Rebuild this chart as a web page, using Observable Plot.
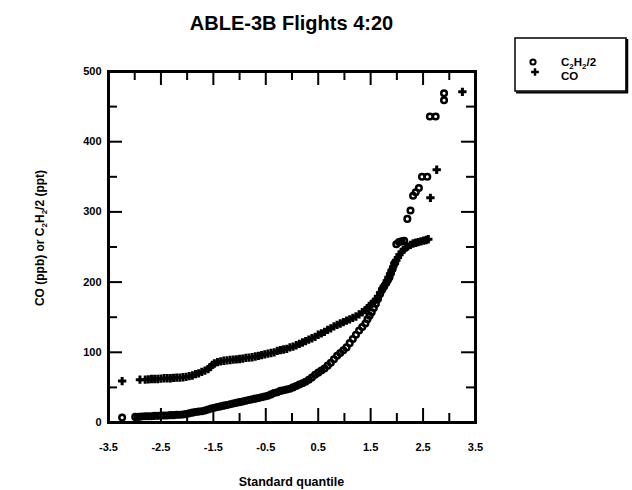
<!DOCTYPE html>
<html>
<head>
<meta charset="utf-8">
<script src="https://cdn.jsdelivr.net/npm/d3@7"></script>
<script src="https://cdn.jsdelivr.net/npm/@observablehq/plot@0.6"></script>
<style>
  html, body { margin: 0; padding: 0; background: #fff; }
  #wrap { position: relative; width: 632px; height: 490px; overflow: hidden; }
  #wrap > svg { position: absolute; left: 0; top: 0; }
  #overlay { pointer-events: none; }
  #overlay text { font-family: "Liberation Sans", Arial, Helvetica, sans-serif; font-weight: bold; fill: #000; }
</style>
</head>
<body>
<div id="wrap"></div>
<script>
// ---- data (normal quantile, value) ----
const coQuantile = [-3.24,-2.90,-2.80,-2.74,-2.68,-2.62,-2.56,-2.50,-2.44,-2.38,-2.32,-2.26,-2.20,-2.14,-2.08,-2.02,-1.96,-1.90,-1.84,-1.78,-1.72,-1.66,-1.60,-1.56,-1.52,-1.48,-1.42,-1.36,-1.30,-1.24,-1.18,-1.12,-1.06,-1.00,-0.94,-0.88,-0.82,-0.76,-0.70,-0.64,-0.58,-0.52,-0.46,-0.40,-0.34,-0.28,-0.22,-0.16,-0.10,-0.04,0.02,0.08,0.14,0.20,0.26,0.32,0.38,0.44,0.50,0.56,0.62,0.68,0.74,0.80,0.86,0.92,0.98,1.04,1.10,1.16,1.22,1.28,1.34,1.40,1.44,1.48,1.52,1.56,1.60,1.64,1.68,1.72,1.75,1.78,1.81,1.84,1.87,1.90,1.93,1.96,1.99,2.02,2.05,2.09,2.13,2.17,2.21,2.26,2.31,2.36,2.41,2.46,2.51,2.56,2.60,2.64,2.76,3.25];
const coValue = [59,61,61,61.5,62,62,62,62.5,63,63,63,63.5,64,64,64.5,65,66,67,69,70,72,74,76,79,82,84,86,87,88,88.5,89,89.5,90,90.5,91,92,92.5,93,94,95,96,97,98,99,100,102,103,104,105,107,108,110,112,114,116,118,120,122,125,127,129,132,134,137,139,141,143,145,147,149,151,154,157,160,163,166,169,172,175,180,185,190,194,197,202,207,212,217,222,227,231,235,239,243,246,249,251,253,255,256,257,258,259,260,261,320,360,471];

const c2h2Quantile = [-3.24,-2.99,-2.93,-2.87,-2.80,-2.74,-2.68,-2.62,-2.56,-2.50,-2.44,-2.38,-2.32,-2.26,-2.20,-2.14,-2.08,-2.02,-1.96,-1.90,-1.84,-1.78,-1.72,-1.66,-1.60,-1.54,-1.48,-1.42,-1.36,-1.30,-1.24,-1.18,-1.12,-1.06,-1.00,-0.94,-0.88,-0.82,-0.76,-0.70,-0.64,-0.58,-0.52,-0.46,-0.40,-0.34,-0.28,-0.22,-0.16,-0.10,-0.04,0.02,0.08,0.14,0.20,0.26,0.32,0.38,0.44,0.50,0.56,0.62,0.68,0.74,0.80,0.86,0.92,0.98,1.04,1.10,1.16,1.22,1.28,1.34,1.40,1.44,1.48,1.52,1.56,1.60,1.64,1.68,1.72,1.76,1.80,1.83,1.86,1.89,1.92,1.95,1.97,1.99,2.04,2.09,2.14,2.20,2.26,2.31,2.36,2.42,2.48,2.58,2.63,2.74,2.90,2.90];
const c2h2Value = [7,8,8,8.5,9,9,9,9.5,9.5,10,10,10,10.5,10.5,11,11,11.5,12,13,14,15,15.5,16,17,18.5,20,21,22,23,24,25,26,27,28,29,30,31,32,33,34,35,36,37,38,40,42,43,45,46,47,48,50,52,54,56,58,61,64,68,71,74,77,81,85,90,95,99,103,107,113,119,125,131,136,141,147,152,157,163,169,176,183,189,194,199,203,207,213,219,226,228,254,257,258,259,290,302,323,328,334,350,350,436,436,459,469];

// axis ticks
const xTicks = [-3.5,-2.5,-1.5,-0.5,0.5,1.5,2.5,3.5];
const xMinorTicks = [-3,-2,-1,0,1,2,3];
const yTicks = [0,100,200,300,400,500];
const yMinorTicks = [50,150,250,350,450];

const co = coQuantile.map((q, i) => ({q, v: coValue[i]}));
const c2h2 = c2h2Quantile.map((q, i) => ({q, v: c2h2Value[i]}));

const W = 632, H = 490, mL = 108, mR = 157, mT = 71, mB = 68;
const fw = W - mL - mR, fh = H - mT - mB;
const major = 14, minor = 9;

const chart = Plot.plot({
  width: W, height: H,
  marginLeft: mL, marginRight: mR, marginTop: mT, marginBottom: mB,
  x: {domain: [-3.5, 3.5]},
  y: {domain: [0, 500]},
  style: {fontFamily: "'Liberation Sans', Arial, Helvetica, sans-serif", fontSize: "11px", fontWeight: "bold", color: "black", background: "white"},
  marks: [
    Plot.axisX(xTicks, {tickSize: 0, tickPadding: 21, tickFormat: d => d.toFixed(1), label: null, fontWeight: "bold", fontSize: 11}),
    Plot.axisY(yTicks, {tickSize: 0, tickPadding: 7, label: null, fontWeight: "bold", fontSize: 11}),
    // inward ticks, bottom and top
    Plot.tickX(xTicks, {x: d => d, insetTop: fh - major, strokeWidth: 2}),
    Plot.tickX(xTicks, {x: d => d, insetBottom: fh - major, strokeWidth: 2}),
    Plot.tickX(xMinorTicks, {x: d => d, insetTop: fh - minor, strokeWidth: 2}),
    Plot.tickX(xMinorTicks, {x: d => d, insetBottom: fh - minor, strokeWidth: 2}),
    // inward ticks, left and right
    Plot.tickY(yTicks, {y: d => d, insetRight: fw - major, strokeWidth: 2}),
    Plot.tickY(yTicks, {y: d => d, insetLeft: fw - major, strokeWidth: 2}),
    Plot.tickY(yMinorTicks, {y: d => d, insetRight: fw - minor, strokeWidth: 2}),
    Plot.tickY(yMinorTicks, {y: d => d, insetLeft: fw - minor, strokeWidth: 2}),
    Plot.dot(c2h2, {x: "q", y: "v", symbol: "circle", r: 2.8, stroke: "black", strokeWidth: 2.5, fill: "none"}),
    Plot.dot(co, {x: "q", y: "v", symbol: "plus", r: 2.8, stroke: "black", strokeWidth: 3}),
    Plot.frame({stroke: "black", strokeWidth: 3})
  ]
});
document.getElementById("wrap").appendChild(chart);

// overlay: title, axis titles, legend
const ov = d3.select("#wrap").append("svg").attr("id", "overlay").attr("width", W).attr("height", H);

ov.append("text").attr("x", mL + fw / 2).attr("y", 30).attr("text-anchor", "middle")
  .style("font-size", "20px").text("ABLE-3B Flights 4:20");

ov.append("text").attr("x", mL + fw / 2).attr("y", 486).attr("text-anchor", "middle")
  .style("font-size", "12.5px").text("Standard quantile");

function chem(sel) {
  sel.append("tspan").text("C");
  sel.append("tspan").attr("dy", 2.5).style("font-size", "8px").text("2");
  sel.append("tspan").attr("dy", -2.5).text("H");
  sel.append("tspan").attr("dy", 2.5).style("font-size", "8px").text("2");
  sel.append("tspan").attr("dy", -2.5).text("/2");
}

const yl = ov.append("text").attr("transform", "translate(44,238) rotate(-90)").attr("text-anchor", "middle")
  .style("font-size", "12px");
yl.append("tspan").text("CO (ppb) or ");
chem(yl);
yl.append("tspan").text(" (ppt)");

// legend
const lg = ov.append("g");
lg.append("rect").attr("x", 515).attr("y", 38).attr("width", 111).attr("height", 53)
  .attr("fill", "white").attr("stroke", "black").attr("stroke-width", 1.5);
lg.append("line").attr("x1", 627).attr("x2", 627).attr("y1", 39).attr("y2", 93).attr("stroke", "black").attr("stroke-width", 2.5);
lg.append("line").attr("x1", 516).attr("x2", 628).attr("y1", 92.5).attr("y2", 92.5).attr("stroke", "black").attr("stroke-width", 2);
lg.append("circle").attr("cx", 533).attr("cy", 62).attr("r", 2.6).attr("fill", "none").attr("stroke", "black").attr("stroke-width", 2);
lg.append("path").attr("d", d3.symbol(d3.symbolPlus, 2.6 * 2.6 * Math.PI)()).attr("transform", "translate(535,72)")
  .attr("fill", "none").attr("stroke", "black").attr("stroke-width", 2.4);
const t1 = lg.append("text").attr("x", 561).attr("y", 66).style("font-size", "11.5px");
chem(t1);
lg.append("text").attr("x", 561).attr("y", 80).style("font-size", "11.5px").text("CO");
</script>
</body>
</html>
